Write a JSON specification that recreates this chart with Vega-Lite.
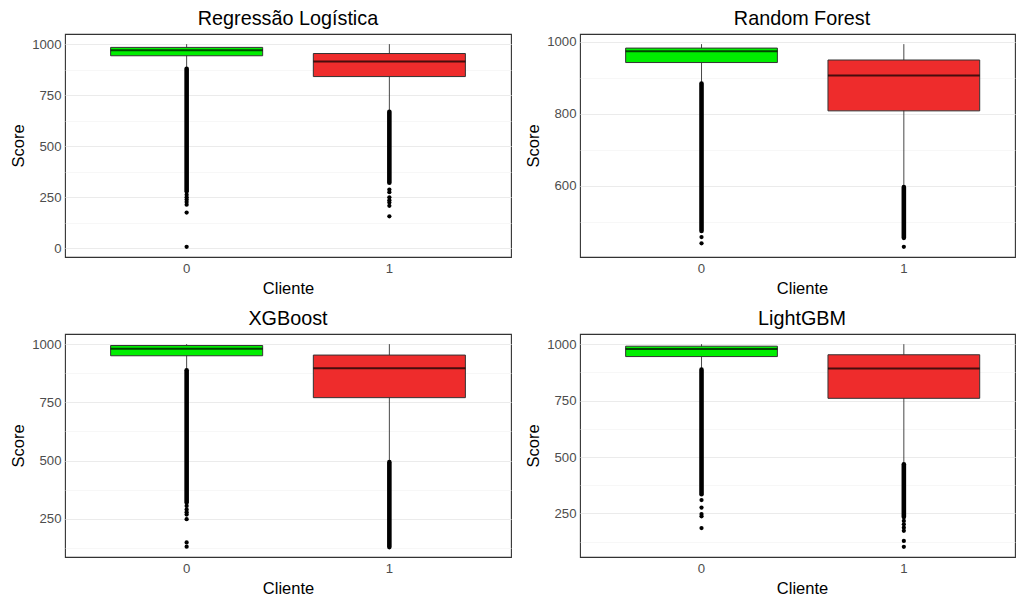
{
  "$schema": "https://vega.github.io/schema/vega-lite/v6.json",
  "padding": {"left": 10, "top": 8, "right": 0, "bottom": 0},
  "bounds": "flush",
  "columns": 2,
  "spacing": {"column": 69, "row": 77},
  "datasets": {
    "boxes": [
      {"model": "RL", "cliente": "0", "q1": 943, "median": 970, "q3": 984, "wlo": 882, "whi": 1000},
      {"model": "RL", "cliente": "1", "q1": 841, "median": 915, "q3": 954, "wlo": 672, "whi": 1000},
      {"model": "RF", "cliente": "0", "q1": 942, "median": 973, "q3": 982, "wlo": 887, "whi": 993},
      {"model": "RF", "cliente": "1", "q1": 808, "median": 906, "q3": 949, "wlo": 600, "whi": 993},
      {"model": "XGB", "cliente": "0", "q1": 950, "median": 980, "q3": 994, "wlo": 892, "whi": 1000},
      {"model": "XGB", "cliente": "1", "q1": 770, "median": 896, "q3": 953, "wlo": 497, "whi": 1000},
      {"model": "LGBM", "cliente": "0", "q1": 945, "median": 978, "q3": 991, "wlo": 890, "whi": 1000},
      {"model": "LGBM", "cliente": "1", "q1": 760, "median": 892, "q3": 953, "wlo": 470, "whi": 1000}
    ],
    "dense": [
      {"model": "RL", "cliente": "0", "lo": 279, "hi": 879},
      {"model": "RL", "cliente": "1", "lo": 320, "hi": 668},
      {"model": "RF", "cliente": "0", "lo": 475, "hi": 884},
      {"model": "RF", "cliente": "1", "lo": 456, "hi": 597},
      {"model": "XGB", "cliente": "0", "lo": 320, "hi": 888},
      {"model": "XGB", "cliente": "1", "lo": 128, "hi": 493},
      {"model": "LGBM", "cliente": "0", "lo": 335, "hi": 887},
      {"model": "LGBM", "cliente": "1", "lo": 234, "hi": 468}
    ],
    "points": [
      {"model": "RL", "cliente": "0", "score": 262},
      {"model": "RL", "cliente": "0", "score": 249},
      {"model": "RL", "cliente": "0", "score": 238},
      {"model": "RL", "cliente": "0", "score": 226},
      {"model": "RL", "cliente": "0", "score": 213},
      {"model": "RL", "cliente": "0", "score": 174},
      {"model": "RL", "cliente": "0", "score": 6},
      {"model": "RL", "cliente": "1", "score": 287},
      {"model": "RL", "cliente": "1", "score": 274},
      {"model": "RL", "cliente": "1", "score": 249},
      {"model": "RL", "cliente": "1", "score": 235},
      {"model": "RL", "cliente": "1", "score": 223},
      {"model": "RL", "cliente": "1", "score": 207},
      {"model": "RL", "cliente": "1", "score": 156},
      {"model": "RF", "cliente": "0", "score": 458},
      {"model": "RF", "cliente": "0", "score": 441},
      {"model": "RF", "cliente": "1", "score": 431},
      {"model": "XGB", "cliente": "0", "score": 305},
      {"model": "XGB", "cliente": "0", "score": 290},
      {"model": "XGB", "cliente": "0", "score": 278},
      {"model": "XGB", "cliente": "0", "score": 268},
      {"model": "XGB", "cliente": "0", "score": 248},
      {"model": "XGB", "cliente": "0", "score": 148},
      {"model": "XGB", "cliente": "0", "score": 130},
      {"model": "LGBM", "cliente": "0", "score": 309},
      {"model": "LGBM", "cliente": "0", "score": 276},
      {"model": "LGBM", "cliente": "0", "score": 247},
      {"model": "LGBM", "cliente": "0", "score": 237},
      {"model": "LGBM", "cliente": "0", "score": 185},
      {"model": "LGBM", "cliente": "1", "score": 217},
      {"model": "LGBM", "cliente": "1", "score": 202},
      {"model": "LGBM", "cliente": "1", "score": 187},
      {"model": "LGBM", "cliente": "1", "score": 173},
      {"model": "LGBM", "cliente": "1", "score": 128},
      {"model": "LGBM", "cliente": "1", "score": 102}
    ]
  },
  "concat": [
    {
      "title": "Regressão Logística",
      "width": 446, "height": 223,
      "layer": [
        {"data": {"name": "boxes"}, "transform": [{"filter": "datum.model === 'RL'"}],
         "mark": {"type": "rule", "color": "#333333", "strokeWidth": 0.9},
         "encoding": {
           "x": {"field": "cliente", "type": "nominal", "sort": null, "scale": {"type": "band", "domain": ["0", "1"], "paddingInner": 0.25, "paddingOuter": 0.225}, "axis": {"title": "Cliente", "labelAngle": 0, "bandPosition": 0.5}},
           "y": {"field": "wlo", "type": "quantitative", "scale": {"domain": [-43.7, 1049.7], "nice": false, "zero": false},
                 "axis": {"title": "Score", "format": "d", "tickCount": 30, "labelOverlap": false, "values": [0, 125, 250, 375, 500, 625, 750, 875, 1000], "labelExpr": "datum.value % 250 === 0 ? datum.label : ''",
                          "gridColor": {"condition": {"test": "datum.value % 250 === 0", "value": "#EBEBEB"}, "value": "#F4F4F4"},
                          "gridWidth": {"condition": {"test": "datum.value % 250 === 0", "value": 1.1}, "value": 0.7}}},
           "y2": {"field": "whi"}}},
        {"data": {"name": "dense"}, "transform": [{"filter": "datum.model === 'RL'"}],
         "mark": {"type": "rule", "color": "black", "strokeWidth": 4.6, "strokeCap": "round"},
         "encoding": {"x": {"field": "cliente", "type": "nominal"}, "y": {"field": "lo", "type": "quantitative"}, "y2": {"field": "hi"}}},
        {"data": {"name": "points"}, "transform": [{"filter": "datum.model === 'RL'"}],
         "mark": {"type": "circle", "color": "black", "size": 18, "opacity": 1},
         "encoding": {"x": {"field": "cliente", "type": "nominal"}, "y": {"field": "score", "type": "quantitative"}}},
        {"data": {"name": "boxes"}, "transform": [{"filter": "datum.model === 'RL'"}],
         "mark": {"type": "bar", "stroke": "#333333", "strokeWidth": 1},
         "encoding": {"x": {"field": "cliente", "type": "nominal"}, "y": {"field": "q1", "type": "quantitative"}, "y2": {"field": "q3"},
           "color": {"field": "cliente", "type": "nominal", "scale": {"domain": ["0", "1"], "range": ["#00EE00", "#EE2C2C"]}, "legend": null}}},
        {"data": {"name": "boxes"}, "transform": [{"filter": "datum.model === 'RL'"}],
         "mark": {"type": "tick", "color": "black", "thickness": 2},
         "encoding": {"x": {"field": "cliente", "type": "nominal"}, "y": {"field": "median", "type": "quantitative"}}}
      ]
    },
    {
      "title": {"text": "Random Forest", "dx": 4.5},
      "width": 435, "height": 223,
      "layer": [
        {"data": {"name": "boxes"}, "transform": [{"filter": "datum.model === 'RF'"}],
         "mark": {"type": "rule", "color": "#333333", "strokeWidth": 0.9},
         "encoding": {
           "x": {"field": "cliente", "type": "nominal", "sort": null, "scale": {"type": "band", "domain": ["0", "1"], "paddingInner": 0.25, "paddingOuter": 0.2, "align": 0.564}, "axis": {"title": "Cliente", "labelAngle": 0, "bandPosition": 0.5, "titleX": 222}},
           "y": {"field": "wlo", "type": "quantitative", "scale": {"domain": [402.9, 1021.1], "nice": false, "zero": false},
                 "axis": {"title": "Score", "format": "d", "tickCount": 30, "labelOverlap": false, "values": [500, 600, 700, 800, 900, 1000], "labelExpr": "datum.value % 200 === 0 ? datum.label : ''",
                          "gridColor": {"condition": {"test": "datum.value % 200 === 0", "value": "#EBEBEB"}, "value": "#F4F4F4"},
                          "gridWidth": {"condition": {"test": "datum.value % 200 === 0", "value": 1.1}, "value": 0.7}}},
           "y2": {"field": "whi"}}},
        {"data": {"name": "dense"}, "transform": [{"filter": "datum.model === 'RF'"}],
         "mark": {"type": "rule", "color": "black", "strokeWidth": 4.6, "strokeCap": "round"},
         "encoding": {"x": {"field": "cliente", "type": "nominal"}, "y": {"field": "lo", "type": "quantitative"}, "y2": {"field": "hi"}}},
        {"data": {"name": "points"}, "transform": [{"filter": "datum.model === 'RF'"}],
         "mark": {"type": "circle", "color": "black", "size": 18, "opacity": 1},
         "encoding": {"x": {"field": "cliente", "type": "nominal"}, "y": {"field": "score", "type": "quantitative"}}},
        {"data": {"name": "boxes"}, "transform": [{"filter": "datum.model === 'RF'"}],
         "mark": {"type": "bar", "stroke": "#333333", "strokeWidth": 1},
         "encoding": {"x": {"field": "cliente", "type": "nominal"}, "y": {"field": "q1", "type": "quantitative"}, "y2": {"field": "q3"},
           "color": {"field": "cliente", "type": "nominal", "scale": {"domain": ["0", "1"], "range": ["#00EE00", "#EE2C2C"]}, "legend": null}}},
        {"data": {"name": "boxes"}, "transform": [{"filter": "datum.model === 'RF'"}],
         "mark": {"type": "tick", "color": "black", "thickness": 2},
         "encoding": {"x": {"field": "cliente", "type": "nominal"}, "y": {"field": "median", "type": "quantitative"}}}
      ]
    },
    {
      "title": "XGBoost",
      "width": 446, "height": 223,
      "layer": [
        {"data": {"name": "boxes"}, "transform": [{"filter": "datum.model === 'XGB'"}],
         "mark": {"type": "rule", "color": "#333333", "strokeWidth": 0.9},
         "encoding": {
           "x": {"field": "cliente", "type": "nominal", "sort": null, "scale": {"type": "band", "domain": ["0", "1"], "paddingInner": 0.25, "paddingOuter": 0.225}, "axis": {"title": "Cliente", "labelAngle": 0, "bandPosition": 0.5}},
           "y": {"field": "wlo", "type": "quantitative", "scale": {"domain": [85.5, 1043.5], "nice": false, "zero": false},
                 "axis": {"title": "Score", "format": "d", "tickCount": 30, "labelOverlap": false, "values": [125, 250, 375, 500, 625, 750, 875, 1000], "labelExpr": "datum.value % 250 === 0 ? datum.label : ''",
                          "gridColor": {"condition": {"test": "datum.value % 250 === 0", "value": "#EBEBEB"}, "value": "#F4F4F4"},
                          "gridWidth": {"condition": {"test": "datum.value % 250 === 0", "value": 1.1}, "value": 0.7}}},
           "y2": {"field": "whi"}}},
        {"data": {"name": "dense"}, "transform": [{"filter": "datum.model === 'XGB'"}],
         "mark": {"type": "rule", "color": "black", "strokeWidth": 4.6, "strokeCap": "round"},
         "encoding": {"x": {"field": "cliente", "type": "nominal"}, "y": {"field": "lo", "type": "quantitative"}, "y2": {"field": "hi"}}},
        {"data": {"name": "points"}, "transform": [{"filter": "datum.model === 'XGB'"}],
         "mark": {"type": "circle", "color": "black", "size": 18, "opacity": 1},
         "encoding": {"x": {"field": "cliente", "type": "nominal"}, "y": {"field": "score", "type": "quantitative"}}},
        {"data": {"name": "boxes"}, "transform": [{"filter": "datum.model === 'XGB'"}],
         "mark": {"type": "bar", "stroke": "#333333", "strokeWidth": 1},
         "encoding": {"x": {"field": "cliente", "type": "nominal"}, "y": {"field": "q1", "type": "quantitative"}, "y2": {"field": "q3"},
           "color": {"field": "cliente", "type": "nominal", "scale": {"domain": ["0", "1"], "range": ["#00EE00", "#EE2C2C"]}, "legend": null}}},
        {"data": {"name": "boxes"}, "transform": [{"filter": "datum.model === 'XGB'"}],
         "mark": {"type": "tick", "color": "black", "thickness": 2},
         "encoding": {"x": {"field": "cliente", "type": "nominal"}, "y": {"field": "median", "type": "quantitative"}}}
      ]
    },
    {
      "title": {"text": "LightGBM", "dx": 4.5},
      "width": 435, "height": 223,
      "layer": [
        {"data": {"name": "boxes"}, "transform": [{"filter": "datum.model === 'LGBM'"}],
         "mark": {"type": "rule", "color": "#333333", "strokeWidth": 0.9},
         "encoding": {
           "x": {"field": "cliente", "type": "nominal", "sort": null, "scale": {"type": "band", "domain": ["0", "1"], "paddingInner": 0.25, "paddingOuter": 0.2, "align": 0.564}, "axis": {"title": "Cliente", "labelAngle": 0, "bandPosition": 0.5, "titleX": 222}},
           "y": {"field": "wlo", "type": "quantitative", "scale": {"domain": [57, 1045], "nice": false, "zero": false},
                 "axis": {"title": "Score", "format": "d", "tickCount": 30, "labelOverlap": false, "values": [125, 250, 375, 500, 625, 750, 875, 1000], "labelExpr": "datum.value % 250 === 0 ? datum.label : ''",
                          "gridColor": {"condition": {"test": "datum.value % 250 === 0", "value": "#EBEBEB"}, "value": "#F4F4F4"},
                          "gridWidth": {"condition": {"test": "datum.value % 250 === 0", "value": 1.1}, "value": 0.7}}},
           "y2": {"field": "whi"}}},
        {"data": {"name": "dense"}, "transform": [{"filter": "datum.model === 'LGBM'"}],
         "mark": {"type": "rule", "color": "black", "strokeWidth": 4.6, "strokeCap": "round"},
         "encoding": {"x": {"field": "cliente", "type": "nominal"}, "y": {"field": "lo", "type": "quantitative"}, "y2": {"field": "hi"}}},
        {"data": {"name": "points"}, "transform": [{"filter": "datum.model === 'LGBM'"}],
         "mark": {"type": "circle", "color": "black", "size": 18, "opacity": 1},
         "encoding": {"x": {"field": "cliente", "type": "nominal"}, "y": {"field": "score", "type": "quantitative"}}},
        {"data": {"name": "boxes"}, "transform": [{"filter": "datum.model === 'LGBM'"}],
         "mark": {"type": "bar", "stroke": "#333333", "strokeWidth": 1},
         "encoding": {"x": {"field": "cliente", "type": "nominal"}, "y": {"field": "q1", "type": "quantitative"}, "y2": {"field": "q3"},
           "color": {"field": "cliente", "type": "nominal", "scale": {"domain": ["0", "1"], "range": ["#00EE00", "#EE2C2C"]}, "legend": null}}},
        {"data": {"name": "boxes"}, "transform": [{"filter": "datum.model === 'LGBM'"}],
         "mark": {"type": "tick", "color": "black", "thickness": 2},
         "encoding": {"x": {"field": "cliente", "type": "nominal"}, "y": {"field": "median", "type": "quantitative"}}}
      ]
    }
  ],
  "config": {
    "font": "Liberation Sans",
    "background": "white",
    "view": {"stroke": "#333333", "strokeWidth": 1.1},
    "axis": {"labelFont": "Liberation Sans", "labelFontSize": 13.2, "labelColor": "#4D4D4D", "titleFont": "Liberation Sans", "titleFontSize": 16.5, "titleColor": "#000000", "titleFontWeight": "normal", "ticks": false, "domain": false, "gridColor": "#EBEBEB", "labelPadding": 4},
    "axisY": {"titlePadding": 5},
    "axisX": {"titlePadding": 6, "labelPadding": 5},
    "title": {"font": "Liberation Sans", "fontSize": 19.8, "fontWeight": "normal", "color": "#000000", "offset": 5, "anchor": "middle", "frame": "group"}
  }
}
